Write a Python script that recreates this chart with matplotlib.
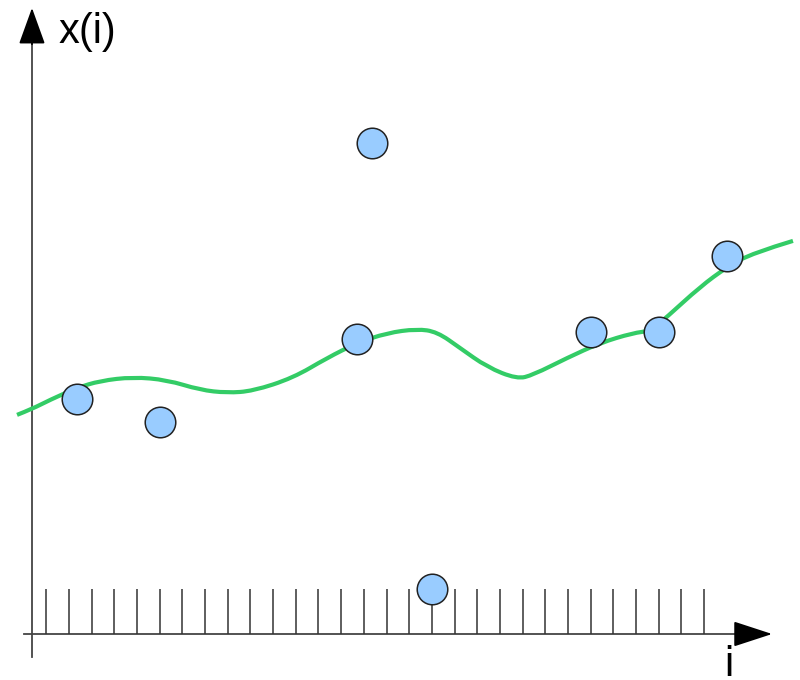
import numpy as np
import matplotlib
matplotlib.use('Agg')
import matplotlib.pyplot as plt
from matplotlib.path import Path
from matplotlib.patches import PathPatch

plt.rcParams['font.family'] = ['Liberation Sans', 'DejaVu Sans']

# sample positions i and measured values x(i)
sample_i = [2.35, 6.0, 14.7, 15.35, 18.0, 25.0, 28.0, 31.0]
sample_x = [10.36, 9.35, 13.01, 21.65, 1.98, 13.32, 13.32, 16.67]

# smooth trend curve (green)
trend_i = [-0.29, 0.37, 1.16, 2.35, 3.37, 4.82, 6.32, 7.78, 8.97, 10.11,
           11.88, 13.38, 14.70, 16.02, 17.34, 18.23, 19.24, 20.43, 21.75,
           22.46, 23.96, 25.41, 26.87, 27.62, 28.37, 29.82, 31.01, 32.16, 33.92]
trend_x = [9.66, 9.92, 10.32, 10.85, 11.16, 11.33, 11.20, 10.76, 10.63, 10.71,
           11.29, 12.17, 12.83, 13.27, 13.45, 13.32, 12.61, 11.77, 11.24,
           11.42, 12.17, 12.83, 13.27, 13.36, 13.98, 15.30, 16.18, 16.80, 17.33]

tick_i = np.arange(1, 31)


def smooth_path(xs, ys):
    # quadratic bezier through midpoints, read points act as control points
    pts = np.column_stack([xs, ys])
    verts = [pts[0]]
    codes = [Path.MOVETO]
    for k in range(1, len(pts) - 1):
        end = pts[k + 1] if k == len(pts) - 2 else (pts[k] + pts[k + 1]) / 2
        verts += [pts[k], end]
        codes += [Path.CURVE3, Path.CURVE3]
    return Path(verts, codes)


fig = plt.figure(figsize=(8, 6.8), dpi=100)
ax = fig.add_axes([0, 0, 1, 1])
ax.set_xlim(-1.041, 34.23)
ax.set_ylim(-2.028, 27.95)
ax.axis('off')

axis_col = '#444444'
# axes lines
ax.plot([0.017, 31.6], [0, 0], color=axis_col, lw=1.3, zorder=1)
ax.plot([0.369, 0.369], [-1.01, 26.3], color=axis_col, lw=1.3, zorder=1)
# arrow heads
ax.annotate('', xy=(33.0, 0), xytext=(31.4, 0),
            arrowprops=dict(arrowstyle='-|>,head_length=2.45,head_width=0.8',
                            mutation_scale=10, color='black', lw=1.3, shrinkA=0, shrinkB=0))
ax.annotate('', xy=(0.369, 27.6), xytext=(0.369, 26.0),
            arrowprops=dict(arrowstyle='-|>,head_length=2.3,head_width=0.83',
                            mutation_scale=10, color='black', lw=1.3, shrinkA=0, shrinkB=0))

# tick marks
ax.vlines(tick_i, 0, 1.97, color='#333333', lw=1.1, zorder=1)

# trend curve
ax.add_patch(PathPatch(smooth_path(trend_i, trend_x), facecolor='none',
                       edgecolor='#33cc66', lw=3.0, capstyle='butt', zorder=2))

# samples
ax.plot(sample_i, sample_x, 'o', ms=22, mfc='#99ccff', mec='#222222', mew=1.1,
        linestyle='none', zorder=3)

# labels
ax.text(1.52, 26.06, 'x(i)', fontsize=30, ha='left', va='baseline', color='black')
ax.text(31.08, -1.85, 'i', fontsize=30, ha='center', va='baseline', color='black')

fig.savefig('out.png', dpi=100)
